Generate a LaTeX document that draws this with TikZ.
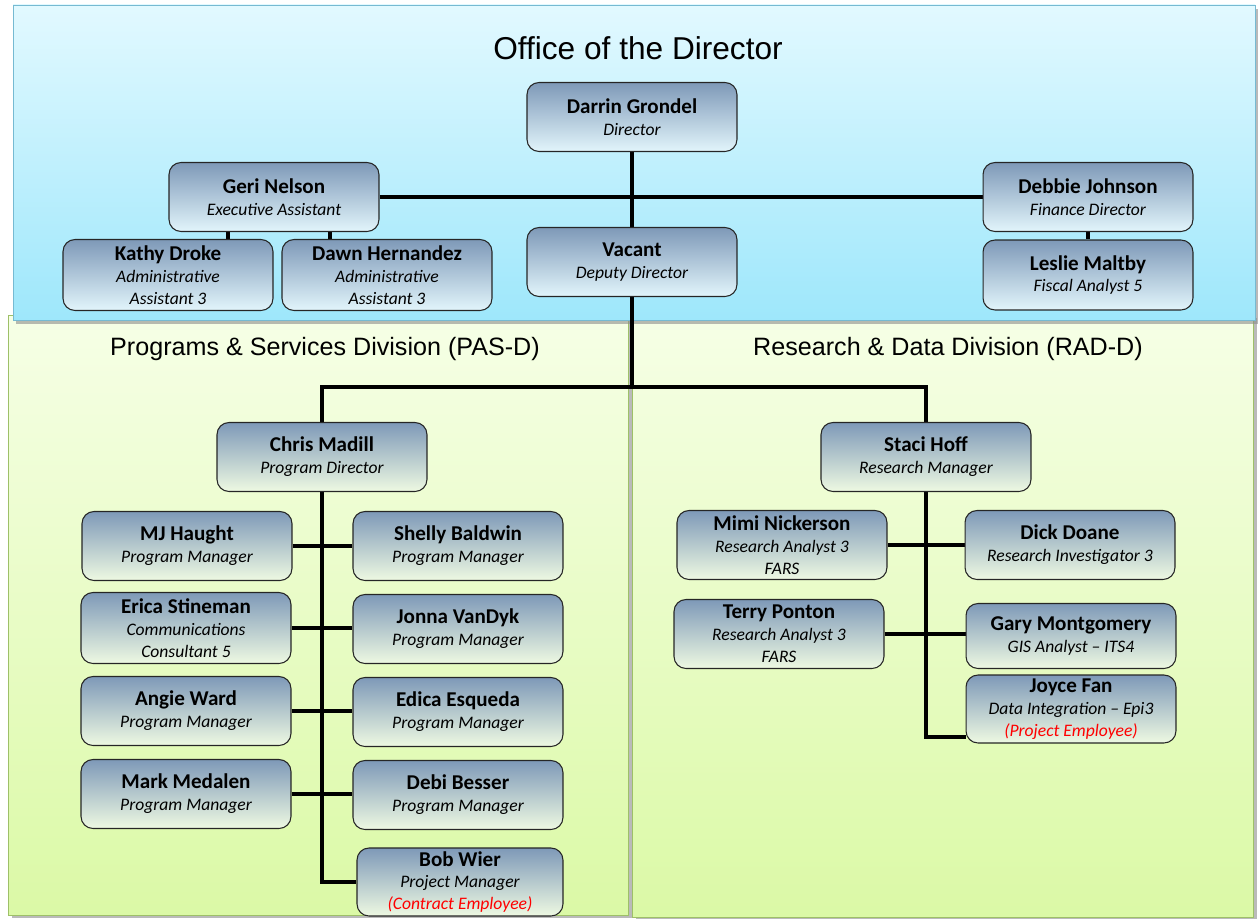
\documentclass[tikz,border=0pt]{standalone}
\usepackage{fontspec}
\setmainfont{Carlito}
\newfontfamily\headfont{Liberation Sans}
\usetikzlibrary{positioning,shadows,backgrounds}

\definecolor{boxtop}{RGB}{126,153,184}
\definecolor{boxblue}{RGB}{226,245,251}
\definecolor{boxgreen}{RGB}{238,249,226}
\definecolor{skytop}{RGB}{226,249,255}
\definecolor{skybot}{RGB}{158,231,251}
\definecolor{skyline}{RGB}{118,186,210}
\definecolor{limetop}{RGB}{246,255,230}
\definecolor{limebot}{RGB}{219,249,166}
\definecolor{limeline}{RGB}{158,192,104}

\tikzset{
  staff/.style={draw=black!85, line width=0.6pt, rounded corners=0.24cm, top color=boxtop, bottom color=boxgreen,
    minimum width=4.2cm, minimum height=1.38cm, align=center, inner sep=1pt,
    font=\fontsize{10}{12.5}\selectfont\itshape},
  office/.style={staff, bottom color=boxblue},
  link/.style={line width=2.2pt, black},
  heading/.style={font=\headfont\fontsize{14.3}{17}\selectfont}
}

\begin{document}
\begin{tikzpicture}[x=0.02cm, y=-0.02cm]
\useasboundingbox (0,0) rectangle (1259,919);

\begin{scope}[on background layer]
\draw [limeline, top color=limetop, bottom color=limebot, drop shadow={shadow xshift=2pt, shadow yshift=-1.5pt, fill=black!45, opacity=0.6}] (8,315) rectangle (628,915);
\draw [limeline, top color=limetop, bottom color=limebot, drop shadow={shadow xshift=2pt, shadow yshift=-1.5pt, fill=black!45, opacity=0.6}] (632,315) rectangle (1253,917);
\draw [skyline, top color=skytop, bottom color=skybot, drop shadow={shadow xshift=1.5pt, shadow yshift=-2pt, fill=black!45, opacity=0.6}] (13,5) rectangle (1255,320);
\end{scope}

\node [heading, font=\headfont\fontsize{18}{22}\selectfont] (office) at (638,48) {Office of the Director};
\node [heading] (pas) at (325,349) {Programs \& Services Division (PAS-D)};
\node [heading] (rad) at (948,349) {Research \& Data Division (RAD-D)};

% office of the director
\node [office] (dir) at (632,117) {{\large\upshape\bfseries Darrin Grondel}\\Director};
\node [office] (deputy) at (632,262) {{\large\upshape\bfseries Vacant}\\Deputy Director};
\node [office] (geri) at (274,197) {{\large\upshape\bfseries Geri Nelson}\\Executive Assistant};
\node [office, minimum height=1.42cm] (kathy) at (168,275) {{\large\upshape\bfseries Kathy Droke}\\Administrative\\Assistant 3};
\node [office, minimum height=1.42cm] (dawn) at (387,275) {{\large\upshape\bfseries Dawn Hernandez}\\Administrative\\Assistant 3};
\node [office] (debbie) at (1088,197) {{\large\upshape\bfseries Debbie Johnson}\\Finance Director};
\node [office, minimum height=1.4cm] (leslie) at (1088,275) {{\large\upshape\bfseries Leslie Maltby}\\Fiscal Analyst 5};

% programs & services
\node [staff] (chris) at (322,457) {{\large\upshape\bfseries Chris Madill}\\Program Director};
\node [staff] (mj) at (187,546) {{\large\upshape\bfseries MJ Haught}\\Program Manager};
\node [staff] (shelly) at (458,546) {{\large\upshape\bfseries Shelly Baldwin}\\Program Manager};
\node [staff, minimum height=1.42cm] (erica) at (186,628) {{\large\upshape\bfseries Erica Stineman}\\Communications\\Consultant 5};
\node [staff] (jonna) at (458,629) {{\large\upshape\bfseries Jonna VanDyk}\\Program Manager};
\node [staff] (angie) at (186,711) {{\large\upshape\bfseries Angie Ward}\\Program Manager};
\node [staff] (edica) at (458,712) {{\large\upshape\bfseries Edica Esqueda}\\Program Manager};
\node [staff] (mark) at (186,794) {{\large\upshape\bfseries Mark Medalen}\\Program Manager};
\node [staff] (debi) at (458,795) {{\large\upshape\bfseries Debi Besser}\\Program Manager};
\node [staff, minimum width=4.12cm, minimum height=1.36cm] (bob) at (460,882) {{\large\upshape\bfseries Bob Wier}\\Project Manager\\{\color{red}(Contract Employee)}};

% research & data
\node [staff] (staci) at (926,457) {{\large\upshape\bfseries Staci Hoff}\\Research Manager};
\node [staff] (mimi) at (782,545) {{\large\upshape\bfseries Mimi Nickerson}\\Research Analyst 3\\FARS};
\node [staff] (dick) at (1070,545) {{\large\upshape\bfseries Dick Doane}\\Research Investigator 3};
\node [staff] (terry) at (779,634) {{\large\upshape\bfseries Terry Ponton}\\Research Analyst 3\\FARS};
\node [staff, minimum height=1.3cm] (gary) at (1071,636) {{\large\upshape\bfseries Gary Montgomery}\\GIS Analyst -- ITS4};
\node [staff, minimum height=1.36cm] (joyce) at (1071,709) {{\large\upshape\bfseries Joyce Fan}\\Data Integration -- Epi3\\{\color{red}(Project Employee)}};

\begin{scope}[on background layer]
\coordinate (gk) at ([xshift=-0.92cm]geri.south);
\coordinate (gd) at ([xshift=1.12cm]geri.south);
\coordinate (split) at (632,387);
\coordinate (jf) at ([yshift=-0.56cm]joyce.west);
\draw [link, line width=2.6pt] (dir.south) -- (geri.east -| dir.south);
\draw [link] (geri.east -| dir.south) -- (deputy.north);
\draw [link] (geri.east) -- (debbie.west);
\draw [link] (gk) -- (gk |- kathy.north);
\draw [link] (gd) -- (gd |- dawn.north);
\draw [link] (debbie.south) -- (leslie.north);
\draw [link] (deputy.south) -- (split);
\draw [link] (chris.north) |- (split) -| (staci.north);
\draw [link] (chris.south) |- (bob.west);
\draw [link] (mj.east) -- (shelly.west);
\draw [link] (erica.east) -- (erica.east -| jonna.west);
\draw [link] (angie.east) -- (angie.east -| edica.west);
\draw [link] (mark.east) -- (mark.east -| debi.west);
\draw [link] (staci.south) |- (jf);
\draw [link] (mimi.east) -- (dick.west);
\draw [link] (terry.east) -- (terry.east -| gary.west);
\end{scope}
\end{tikzpicture}
\end{document}
